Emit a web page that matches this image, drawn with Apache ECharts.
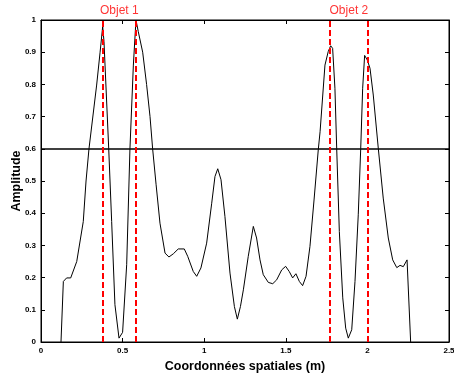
<!DOCTYPE html>
<html>
<head>
<meta charset="utf-8">
<script src="https://cdn.jsdelivr.net/npm/echarts@6/dist/echarts.min.js"></script>
<style>
html,body{margin:0;padding:0;background:#fff;}
#chart{width:454px;height:376px;}
</style>
</head>
<body>
<div id="chart"></div>
<script>
// Spatial coordinates (m)
const positions = [0.1225,0.137,0.157,0.182,0.219,0.259,0.276,0.294,0.341,0.362,0.378,0.386,0.415,0.433,0.453,0.478,0.50,0.525,0.545,0.566,0.582,0.596,0.623,0.647,0.668,0.684,0.705,0.729,0.760,0.784,0.811,0.841,0.878,0.899,0.933,0.954,0.980,1.015,1.046,1.066,1.083,1.103,1.127,1.158,1.185,1.203,1.222,1.240,1.270,1.301,1.321,1.342,1.362,1.393,1.420,1.444,1.475,1.499,1.521,1.542,1.562,1.583,1.603,1.624,1.648,1.673,1.699,1.710,1.740,1.760,1.775,1.787,1.801,1.812,1.828,1.849,1.867,1.883,1.904,1.924,1.944,1.959,1.971,1.983,1.999,2.016,2.036,2.067,2.097,2.128,2.155,2.180,2.200,2.220,2.243,2.265];
// Amplitude
const amplitudes = [0,0.188,0.199,0.199,0.25,0.374,0.5,0.6,0.798,0.9,0.98,0.933,0.6,0.374,0.116,0.012,0.03,0.24,0.6,0.86,1.0,0.964,0.9,0.8,0.7,0.6,0.49,0.369,0.276,0.264,0.274,0.289,0.289,0.266,0.219,0.204,0.23,0.307,0.431,0.514,0.538,0.504,0.39,0.214,0.11,0.071,0.11,0.162,0.266,0.359,0.323,0.255,0.209,0.185,0.181,0.193,0.224,0.235,0.219,0.199,0.212,0.188,0.175,0.204,0.297,0.441,0.597,0.653,0.86,0.902,0.92,0.912,0.788,0.6,0.343,0.137,0.043,0.012,0.038,0.188,0.395,0.6,0.788,0.89,0.876,0.85,0.767,0.6,0.447,0.323,0.255,0.231,0.238,0.234,0.255,0];
// Object boundaries (m)
const objectEdges = [0.375, 0.585, 1.773, 2.0];
const objectNames = ['Objet 1', 'Objet 2'];
const threshold = 0.6;
const xTicks = [0, 0.5, 1, 1.5, 2, 2.5];
const yTicks = [0, 0.1, 0.2, 0.3, 0.4, 0.5, 0.6, 0.7, 0.8, 0.9, 1];

const curve = positions.map((x, i) => [x, amplitudes[i]]);
const labelPts = objectNames.map((n, i) => [(objectEdges[2*i] + objectEdges[2*i+1]) / 2, 1, n]);

const FONT = 'Liberation Sans, Arial, Helvetica, sans-serif';
const chart = echarts.init(document.getElementById('chart'), null, {renderer: 'canvas'});

const baseAxisLine = {show: true, onZero: false, lineStyle: {color: '#000', width: 1}};
const tick = {show: true, inside: true, length: 4, lineStyle: {color: '#000', width: 1}};

chart.setOption({
  animation: false,
  backgroundColor: '#fff',
  grid: {left: 41, right: 5, top: 20, bottom: 34, containLabel: false, outerBoundsMode: 'none',
    show: true, borderColor: '#000', borderWidth: 1, backgroundColor: 'transparent'},
  xAxis: [
    {
      type: 'value', min: xTicks[0], max: xTicks[xTicks.length-1], interval: 0.5,
      position: 'bottom', gridIndex: 0,
      axisLine: baseAxisLine, axisTick: tick, splitLine: {show: false},
      axisLabel: {fontFamily: FONT, fontSize: 8, fontWeight: 'bold', color: '#000', margin: 5,
        showMinLabel: true, showMaxLabel: true},
      name: 'Coordonnées spatiales (m)', nameLocation: 'middle', nameGap: 16,
      nameTextStyle: {fontFamily: FONT, fontSize: 12.5, fontWeight: 'bold', color: '#000'}
    },
    {
      type: 'value', min: xTicks[0], max: xTicks[xTicks.length-1], interval: 0.5,
      position: 'top', gridIndex: 0,
      axisLine: baseAxisLine, axisTick: tick, splitLine: {show: false}, axisLabel: {show: false}
    }
  ],
  yAxis: [
    {
      type: 'value', min: yTicks[0], max: yTicks[yTicks.length-1], interval: 0.1,
      position: 'left', gridIndex: 0,
      axisLine: baseAxisLine, axisTick: tick, splitLine: {show: false},
      axisLabel: {fontFamily: FONT, fontSize: 8, fontWeight: 'bold', color: '#000', margin: 5},
      name: 'Amplitude', nameLocation: 'middle', nameGap: 18, nameRotate: 90, nameMoveOverlap: false,
      nameTextStyle: {fontFamily: FONT, fontSize: 12.5, fontWeight: 'bold', color: '#000'}
    },
    {
      type: 'value', min: yTicks[0], max: yTicks[yTicks.length-1], interval: 0.1,
      position: 'right', gridIndex: 0,
      axisLine: baseAxisLine, axisTick: tick, splitLine: {show: false}, axisLabel: {show: false}
    }
  ],
  series: [
    {
      type: 'line',
      data: curve,
      showSymbol: false,
      symbol: 'none',
      lineStyle: {color: '#000', width: 1},
      z: 2,
      markLine: {
        silent: true,
        symbol: ['none', 'none'],
        label: {show: false},
        animation: false,
        data: [
          {yAxis: threshold, lineStyle: {color: '#000', width: 1.5, type: 'solid'}}
        ].concat(objectEdges.map(x => ({xAxis: x, lineStyle: {color: '#ff0000', width: 2, type: [6, 3]}})))
      }
    },
    {
      type: 'scatter',
      data: labelPts,
      symbolSize: 0,
      clip: false,
      label: {
        show: true, position: 'top', distance: 3,
        formatter: p => p.value[2],
        fontFamily: FONT, fontSize: 12, color: '#ff0000'
      },
      z: 5
    }
  ]
});
</script>
</body>
</html>
